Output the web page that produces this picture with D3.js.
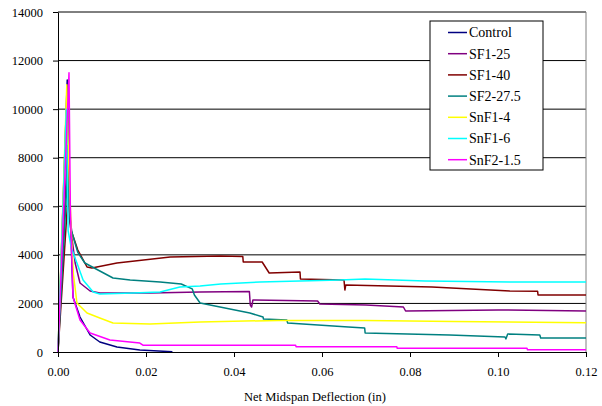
<html>
<head>
    <script src="https://d3js.org/d3.v7.min.js"></script>
</head>
<style>
    body { margin: 0; background: white; }
    .grid line { stroke: #000; stroke-width: 1px; }
    .axis path, .axis line { stroke: #000; }
    .series { fill: none; stroke-width: 1.5px; stroke-linejoin: round; }
</style>
<body>
    <svg id="chart" width="602" height="406"></svg>

    <script>
        const serif = "'Liberation Serif', 'Times New Roman', Times, 'DejaVu Serif', serif";

        // series names and colours (Excel default palette)
        const seriesNames = ["Control", "SF1-25", "SF1-40", "SF2-27.5", "SnF1-4", "SnF1-6", "SnF2-1.5"];
        const seriesColors = ["#000080", "#800080", "#800000", "#008080", "#ffff00", "#00ffff", "#ff00ff"];

        const xTicks = [0, 0.02, 0.04, 0.06, 0.08, 0.10, 0.12];
        const yTicks = [0, 2000, 4000, 6000, 8000, 10000, 12000, 14000];

        // [deflection (in), load]
        const control = [[0,0],[0.0021,11200],[0.0025,7000],[0.003,4500],[0.0034,2265],[0.005,1441],[0.0073,700],
            [0.0095,412],[0.0134,206],[0.0186,82],[0.026,12]];
        const sf1_25 = [[0,0],[0.0022,8500],[0.0026,5500],[0.0039,3665],[0.005,2841],[0.0073,2512],[0.0095,2430],
            [0.0209,2430],[0.0323,2470],[0.0435,2490],[0.0437,1935],[0.044,1853],[0.0443,2141],[0.059,2100],
            [0.0595,1976],[0.07,1935],[0.0785,1853],[0.079,1688],[0.10,1730],[0.12,1690]];
        const sf1_40 = [[0,0],[0.0023,6500],[0.003,5000],[0.0045,4200],[0.0066,3500],[0.0077,3460],[0.0134,3665],
            [0.0255,3912],[0.0368,3953],[0.042,3933],[0.0421,3706],[0.0464,3706],[0.048,3253],[0.055,3294],
            [0.0551,3006],[0.065,2965],[0.0652,2553],[0.0654,2759],[0.085,2677],[0.1027,2512],[0.109,2500],
            [0.1091,2347],[0.12,2347]];
        const sf2_275 = [[0,0],[0.0022,7500],[0.0027,5500],[0.0032,4900],[0.0045,4100],[0.0061,3665],[0.0125,3047],
            [0.0164,2965],[0.0232,2883],[0.028,2800],[0.0305,2600],[0.031,2347],[0.0323,2018],[0.0436,1606],
            [0.0466,1441],[0.0467,1359],[0.052,1318],[0.0522,1194],[0.066,1030],[0.0697,988],[0.0698,782],
            [0.089,700],[0.1016,617],[0.1018,540],[0.1022,741],[0.1095,700],[0.1097,576],[0.12,576]];
        const snf1_4 = [[0,0],[0.002,11000],[0.0024,8000],[0.003,5000],[0.0032,4200],[0.0035,3200],[0.004,2470],
            [0.0043,2018],[0.0066,1606],[0.0095,1400],[0.0125,1194],[0.0209,1153],[0.0323,1235],[0.05,1300],
            [0.07,1300],[0.09,1260],[0.12,1200]];
        const snf1_6 = [[0,0],[0.0019,10000],[0.0023,5000],[0.003,4300],[0.0043,3665],[0.0057,2965],[0.008,2470],
            [0.0095,2390],[0.017,2430],[0.0232,2470],[0.0277,2677],[0.0323,2718],[0.037,2800],[0.0459,2883],
            [0.064,2965],[0.0698,3006],[0.0834,2924],[0.1027,2883],[0.12,2883]];
        const snf2_15 = [[0,0],[0.0025,11500],[0.0028,6000],[0.0034,2265],[0.005,1318],[0.0073,782],[0.0118,494],
            [0.0186,370],[0.0193,280],[0.054,280],[0.0541,220],[0.077,220],[0.0771,150],[0.1066,150],
            [0.1067,90],[0.12,90]];

        const seriesData = [control, sf1_25, sf1_40, sf2_275, snf1_4, snf1_6, snf2_15];

        const svg = d3.select("svg#chart");
        const plot = { left: 58, right: 586, top: 12, bottom: 352 };

        const x = d3.scaleLinear().domain([0, 0.12]).range([plot.left, plot.right]);
        const y = d3.scaleLinear().domain([0, 14000]).range([plot.bottom, plot.top]);

        // horizontal gridlines
        svg.append("g").attr("class", "grid")
            .selectAll("line").data(yTicks.slice(1)).join("line")
            .attr("x1", plot.left).attr("x2", plot.right)
            .attr("y1", d => y(d)).attr("y2", d => y(d));

        // right edge of plot area
        svg.append("line")
            .attr("x1", plot.right).attr("x2", plot.right)
            .attr("y1", plot.top).attr("y2", plot.bottom)
            .attr("stroke", "#808080");

        // series
        const line = d3.line().x(d => x(d[0])).y(d => y(d[1]));
        svg.append("g").selectAll("path").data(seriesData).join("path")
            .attr("class", "series")
            .attr("stroke", (d, i) => seriesColors[i])
            .attr("d", line);

        // axes
        const xAxis = svg.append("g").attr("class", "axis")
            .attr("transform", "translate(0," + plot.bottom + ")")
            .call(d3.axisBottom(x).tickValues(xTicks).tickFormat(d3.format(".2f"))
                .tickSize(5).tickSizeOuter(0).tickPadding(10));
        const yAxis = svg.append("g").attr("class", "axis")
            .attr("transform", "translate(" + plot.left + ",0)")
            .call(d3.axisLeft(y).tickValues(yTicks).tickFormat(d3.format("d"))
                .tickSize(5).tickSizeOuter(0).tickPadding(10));
        [xAxis, yAxis].forEach(g => g.attr("font-family", serif).attr("font-size", 12.5)
            .selectAll("text").attr("fill", "#000"));

        svg.append("text")
            .attr("x", 315).attr("y", 401)
            .attr("text-anchor", "middle")
            .attr("font-family", serif)
            .attr("font-size", 12.5)
            .text("Net Midspan Deflection (in)");

        // legend
        const legend = svg.append("g").attr("transform", "translate(430,21)");
        legend.append("rect")
            .attr("width", 113).attr("height", 149)
            .attr("fill", "white").attr("stroke", "#000");
        const items = legend.selectAll("g.item").data(seriesNames).join("g")
            .attr("class", "item")
            .attr("transform", (d, i) => "translate(0," + (11.5 + i * 21.2) + ")");
        items.append("line")
            .attr("x1", 18).attr("x2", 37)
            .attr("stroke", (d, i) => seriesColors[i])
            .attr("stroke-width", 1.5);
        items.append("text")
            .attr("x", 39).attr("dy", "0.35em")
            .attr("font-family", serif)
            .attr("font-size", 14)
            .text(d => d);
    </script>
</body>
</html>
